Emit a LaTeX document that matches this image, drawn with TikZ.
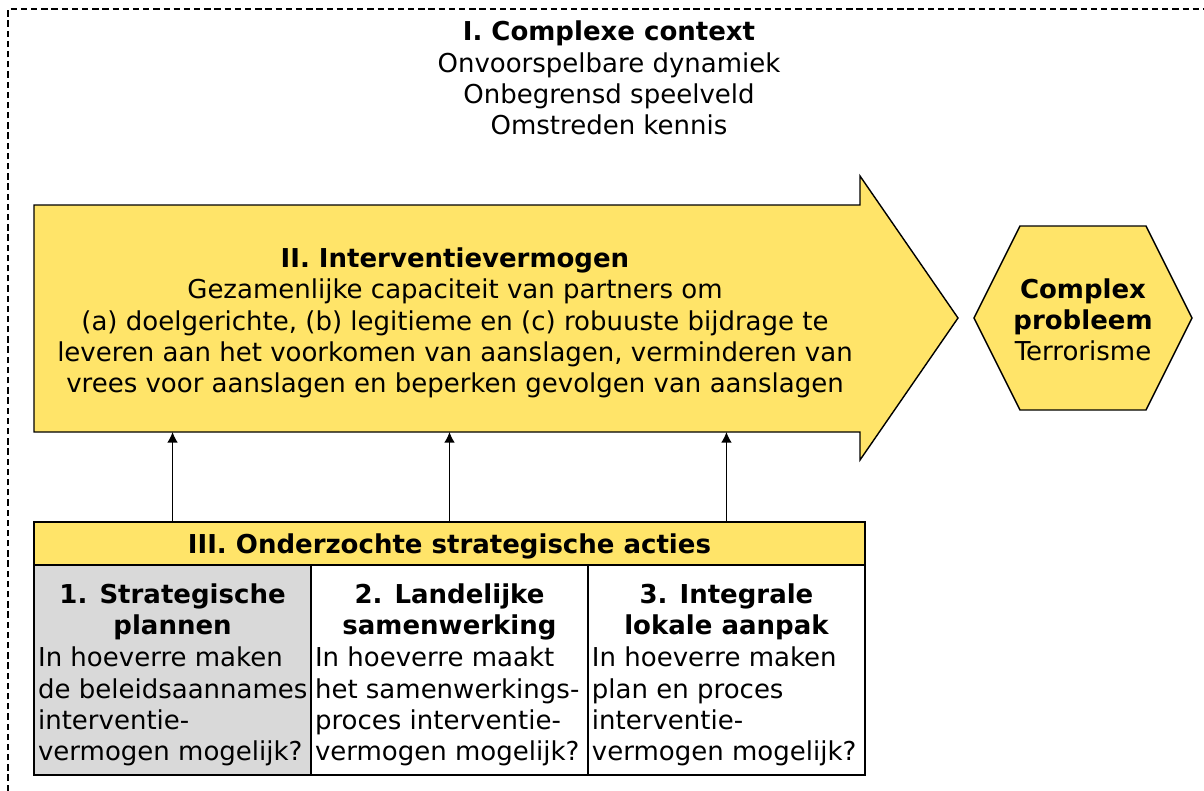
\documentclass[tikz,border=0pt]{standalone}
\usepackage{fontspec}
\setmainfont{DejaVu Sans}
\usetikzlibrary{arrows.meta, positioning}
\definecolor{geel}{HTML}{FFE469}
\definecolor{grijs}{HTML}{D9D9D9}
\tikzstyle{every node}=[font=\fontsize{14.8}{17.8}\selectfont, inner sep=0pt, outer sep=0pt]
\tikzstyle{vak}=[draw, line width=.8pt, rectangle, minimum width=5.54cm, minimum height=4.2cm]
\tikzstyle{kop}=[font=\fontsize{14.8}{17.8}\selectfont\bfseries, align=center]
\tikzstyle{tekst}=[align=left]
\newcommand{\vet}[1]{\textbf{#1}}

\begin{document}
\begin{tikzpicture}[x=0.02cm, y=-0.02cm, >={Latex[length=6pt,width=6pt]}]
    \useasboundingbox (0,0) rectangle (1204,791);
    % I. context
    \draw[line width=1.1pt, dash pattern=on 3.6pt off 2.2pt] (8,791) -- (8,9) -- (1204,9);
    \node[align=center] (ctx) at (609,78) {\vet{I. Complexe context}\\Onvoorspelbare dynamiek\\Onbegrensd speelveld\\Omstreden kennis};
    % II. pijl
    \draw[fill=geel, line width=.8pt] (34,205) -- (860,205) -- (860,176) -- (958,318) -- (860,460) -- (860,432) -- (34,432) -- cycle;
    \coordinate (pijlS) at (447,432);
    \node[align=center] (iv) at (455,323) {\vet{II. Interventievermogen}\\Gezamenlijke capaciteit van partners om\\(a) doelgerichte, (b) legitieme en (c) robuuste bijdrage te\\leveren aan het voorkomen van aanslagen, verminderen van\\vrees voor aanslagen en beperken gevolgen van aanslagen};
    % probleem
    \draw[fill=geel, line width=.8pt] (974,318) -- (1020,226) -- (1146,226) -- (1192,318) -- (1146,410) -- (1020,410) -- cycle;
    \node[align=center] (prob) at (1083,320) {\vet{Complex}\\\vet{probleem}\\Terrorisme};
    % III. acties
    \node[draw, line width=.8pt, fill=geel, minimum width=16.62cm, minimum height=0.86cm, text depth=0pt] (hdr) at (449.5,543.5) {\vet{III. Onderzochte strategische acties}};
    \node[vak, fill=grijs, anchor=north west] (c1) at (hdr.south west) {};
    \node[vak, right=0pt of c1] (c2) {};
    \node[vak, right=0pt of c2] (c3) {};
    \node[kop, below=0.37cm of c1.north] (c1t) {1. Strategische\\plannen};
    \node[kop, below=0.37cm of c2.north] (c2t) {2. Landelijke\\samenwerking};
    \node[kop, below=0.37cm of c3.north] (c3t) {3. Integrale\\lokale aanpak};
    \node[tekst, below right=1.64cm and 0.08cm of c1.north west] (c1b) {In hoeverre maken\\de beleidsaannames\\interventie-\\vermogen mogelijk?};
    \node[tekst, below right=1.64cm and 0.08cm of c2.north west] (c2b) {In hoeverre maakt\\het samenwerkings-\\proces interventie-\\vermogen mogelijk?};
    \node[tekst, below right=1.64cm and 0.08cm of c3.north west] (c3b) {In hoeverre maken\\plan en proces\\interventie-\\vermogen mogelijk?};
    \draw[->, line width=.7pt] (hdr.north -| c1) -- (c1 |- pijlS);
    \draw[->, line width=.7pt] (hdr.north -| c2) -- (c2 |- pijlS);
    \draw[->, line width=.7pt] (hdr.north -| c3) -- (c3 |- pijlS);
\end{tikzpicture}
\end{document}
